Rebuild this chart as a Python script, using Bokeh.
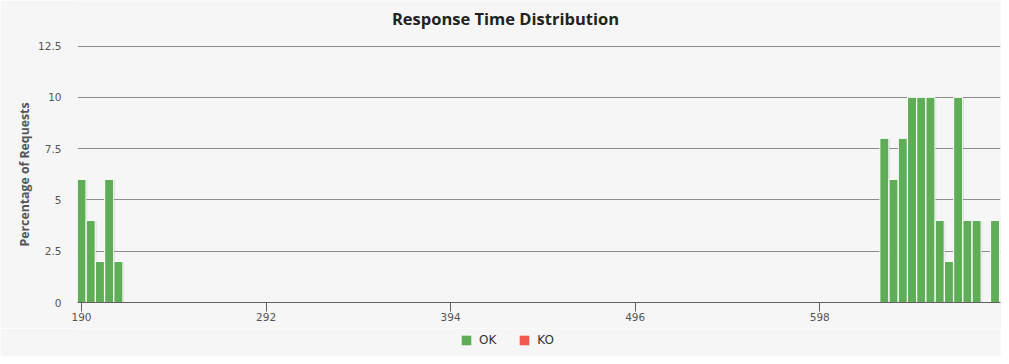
from bokeh.plotting import figure
from bokeh.layouts import column
from bokeh.models import Range1d, FixedTicker, NumeralTickFormatter, Title, Legend, LegendItem, Label
from bokeh.embed import file_html
from bokeh.resources import INLINE

# ---- data (response time bins in ms, percentage of requests) ----
ok_times = [190.0, 195.1, 200.2, 205.3, 210.4,
            633.7, 638.8, 643.9, 649.0, 654.1, 659.2, 664.3, 669.4, 674.5, 679.6, 684.7, 694.9]
ok_pct = [6, 4, 2, 6, 2,
          8, 6, 8, 10, 10, 10, 4, 2, 10, 4, 4, 4]
ko_times = []
ko_pct = []
x_tick_values = [190, 292, 394, 496, 598]
y_tick_values = [0, 2.5, 5, 7.5, 10, 12.5]
bin_width = 5.1
title_text = "Response Time Distribution"
y_title_text = "Percentage of Requests"
series_names = ["OK", "KO"]

OK_COLOR = "#5fae57"
KO_COLOR = "#f15b4f"
BG = "#f6f6f6"

# ---- layout geometry (pixels) ----
W = 1001
H_MAIN, H_LEG = 328, 28
frame_left, frame_right = 77, 1000
frame_bottom = 302
y_top_tick_px = 45.5          # pixel row of the 12.5 gridline
x0, x1 = 187.8, 697.9
y1 = y_tick_values[-1] * frame_bottom / (frame_bottom - y_top_tick_px)

p = figure(width=W, height=H_MAIN, output_backend="svg", toolbar_location=None,
           x_range=Range1d(x0, x1), y_range=Range1d(0, y1),
           min_border_left=frame_left, min_border_right=W - frame_right,
           min_border_top=0, min_border_bottom=H_MAIN - frame_bottom)
p.background_fill_color = BG
p.border_fill_color = BG
p.outline_line_color = None

# shadows
p.vbar(x=[t + 0.7 for t in ok_times], top=[v - 0.04 for v in ok_pct], width=bin_width * 0.97,
       fill_color="#000000", fill_alpha=0.12, line_color=None)
p.vbar(x=ok_times, top=ok_pct, width=bin_width * 0.97, fill_color=OK_COLOR,
       line_color="white", line_width=1)
p.vbar(x=ko_times, top=ko_pct, width=bin_width * 0.97, fill_color=KO_COLOR,
       line_color="white", line_width=1)

# axes
p.xaxis.ticker = FixedTicker(ticks=x_tick_values)
p.xaxis.axis_line_color = "#606060"
p.xaxis.major_tick_line_color = "#606060"
p.xaxis.major_tick_out = 9
p.xaxis.major_tick_in = 0
p.xaxis.minor_tick_line_color = None
p.xaxis.major_label_text_font = "DejaVu Sans"
p.xaxis.major_label_text_font_size = "10.5px"
p.xaxis.major_label_text_color = "#555555"
p.xaxis.major_label_standoff = 1

p.yaxis.ticker = FixedTicker(ticks=y_tick_values)
p.yaxis.formatter = NumeralTickFormatter(format="0.[0]")
p.yaxis.axis_line_color = None
p.yaxis.major_tick_line_color = None
p.yaxis.major_tick_out = 0
p.yaxis.major_tick_in = 0
p.yaxis.minor_tick_line_color = None
p.yaxis.minor_tick_out = 0
p.yaxis.major_label_text_font = "DejaVu Sans"
p.yaxis.major_label_text_font_size = "10.5px"
p.yaxis.major_label_text_color = "#555555"
p.yaxis.major_label_standoff = 16

p.xgrid.grid_line_color = None
p.ygrid.grid_line_color = "#8c8c8c"
p.ygrid.grid_line_width = 1

# y axis title (left panel, starting at the lower end)
p.add_layout(Title(text=y_title_text, align="left", offset=56, standoff=5,
                   text_font="Open Sans", text_font_style="bold", text_font_size="12.3px",
                   text_color="#555555"), "left")

# chart title, centred on the whole chart
chart_center_px = 505
px_per_x = (frame_right - frame_left) / (x1 - x0)
title_x = x0 + (chart_center_px - frame_left) / px_per_x
title_baseline_px = 18
title_y = y1 * (frame_bottom - title_baseline_px) / frame_bottom
p.add_layout(Label(x=title_x, y=title_y, text=title_text, text_align="center",
                   text_baseline="alphabetic", text_font="Open Sans",
                   text_font_style="bold", text_font_size="16.5px", text_color="#222222"))

# ---- legend strip (its own frame so nothing is clipped; frame aligned with main plot) ----
lg = figure(width=W, height=H_LEG, output_backend="svg", toolbar_location=None,
            x_range=Range1d(0, 1), y_range=Range1d(0, 1), x_axis_type=None, y_axis_type=None,
            min_border_left=frame_left, min_border_right=W - frame_right,
            min_border_top=0, min_border_bottom=0)
lg.background_fill_color = BG
lg.border_fill_color = BG
lg.outline_line_color = None
lg.xgrid.grid_line_color = None
lg.ygrid.grid_line_color = None
# zero-height placeholders: they only give the legend its swatches
r_ok = lg.vbar(x=[0.5], top=[0], width=0.01, fill_color=OK_COLOR, line_color=None)
r_ko = lg.vbar(x=[0.5], top=[0], width=0.01, fill_color=KO_COLOR, line_color=None)
legend_left_px = 460
legend = Legend(items=[LegendItem(label=series_names[0], renderers=[r_ok]),
                       LegendItem(label=series_names[1], renderers=[r_ko])],
                orientation="horizontal", location=(legend_left_px - frame_left, 9),
                glyph_width=12, glyph_height=12, label_height=12, label_width=16,
                label_standoff=7, spacing=22,
                padding=0, margin=0, background_fill_alpha=0, border_line_color=None,
                label_text_font="DejaVu Sans", label_text_font_size="12px",
                label_text_color="#333333")
lg.add_layout(legend, "center")

open("out.html", "w").write(file_html(column(p, lg, spacing=0), INLINE))
